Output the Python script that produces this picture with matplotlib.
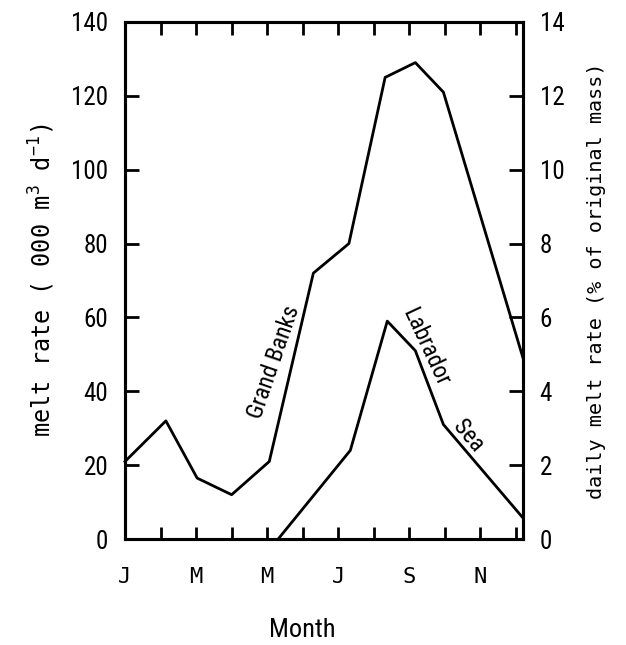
import matplotlib
matplotlib.use("Agg")
import matplotlib.pyplot as plt
from matplotlib import font_manager

# pick a narrow sans if available
names = {f.name for f in font_manager.fontManager.ttflist}
narrow = "DejaVu Sans"
for cand in ["Liberation Sans Narrow", "DejaVu Sans Condensed", "Roboto Condensed"]:
    if cand in names:
        narrow = cand
        break
mono = "DejaVu Sans Mono"

plt.rcParams["mathtext.fontset"] = "custom"
plt.rcParams["mathtext.rm"] = mono
plt.rcParams["mathtext.it"] = mono

# -----------------------------------------------------------
# Data
# -----------------------------------------------------------
gb_month = [0, 1.15, 2.03, 3.0, 4.06, 5.3, 6.3, 7.32, 8.17, 8.96, 11.2]
gb_rate = [21, 32, 16.5, 12, 21, 72, 80, 125, 129, 121, 49]

lab_month = [4.31, 6.34, 7.38, 8.17, 8.96, 11.2]
lab_rate = [0, 24, 59, 51, 31, 5.7]

month_ticks = list(range(12))
month_labels = ["J", "", "M", "", "M", "", "J", "", "S", "", "N", ""]
left_ticks = [0, 20, 40, 60, 80, 100, 120, 140]
right_ticks = [0, 2, 4, 6, 8, 10, 12, 14]

# -----------------------------------------------------------
# Plot
# -----------------------------------------------------------
fig = plt.figure(figsize=(6.26, 6.45), dpi=100)
ax = fig.add_axes([0.1997, 0.1643, 0.6358, 0.8016])

ax.plot(gb_month, gb_rate, color="black", lw=2.0, clip_on=False)
ax.plot(lab_month, lab_rate, color="black", lw=2.0, clip_on=False)

ax.set_xlim(0, 11.2)
ax.set_ylim(0, 140)
for s in ax.spines.values():
    s.set_linewidth(2.2)

ax.set_xticks(month_ticks)
ax.set_xticklabels(month_labels, family=mono, fontsize=16)
ax.set_yticks(left_ticks)
ax.set_yticklabels([str(v) for v in left_ticks], family=narrow, fontsize=18)
ax.tick_params(axis="x", direction="in", length=9, width=2, top=True, pad=20)
ax.tick_params(axis="y", direction="in", length=10, width=2, pad=12)

ax2 = ax.twinx()
ax2.set_ylim(0, 14)
ax2.set_yticks(right_ticks)
ax2.set_yticklabels([str(v) for v in right_ticks], family=narrow, fontsize=18)
ax2.tick_params(axis="y", direction="in", length=10, width=2, pad=12)
for s in ax2.spines.values():
    s.set_linewidth(2.2)

ax.set_xlabel("Month", family=narrow, fontsize=19)
ax.xaxis.set_label_coords(0.445, -0.153)
ax.set_ylabel("melt rate ( 000 m$^3$ d$^{-1}$)", family=mono, fontsize=17, labelpad=10)
ax2.set_ylabel("daily melt rate (% of original mass)", family=mono, fontsize=14.5, labelpad=16)

# line labels
ax.text(4.2, 48, "Grand Banks", family=narrow, fontsize=17, rotation=71,
        ha="center", va="center")
ax.text(8.45, 52, "Labrador", family=narrow, fontsize=17, rotation=-65,
        ha="center", va="center")
ax.text(9.65, 28, "Sea", family=narrow, fontsize=17, rotation=-50,
        ha="center", va="center")

fig.savefig("out.png", dpi=100)
